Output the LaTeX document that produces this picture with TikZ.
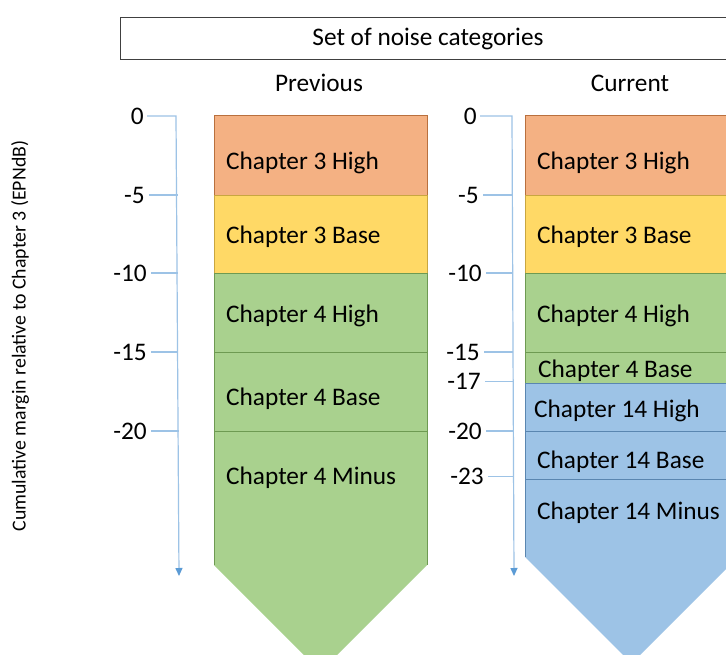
\documentclass[tikz,border=0pt]{standalone}
\usepackage{fontspec}
\setmainfont{Carlito}
\usetikzlibrary{arrows.meta}
\definecolor{orF}{HTML}{F4B183}
\definecolor{orD}{HTML}{B9703E}
\definecolor{yeF}{HTML}{FFD966}
\definecolor{yeD}{HTML}{C9A640}
\definecolor{grF}{HTML}{A9D18E}
\definecolor{grD}{HTML}{6E9A52}
\definecolor{blF}{HTML}{9DC3E6}
\definecolor{blD}{HTML}{5A86B0}
\definecolor{axL}{HTML}{9DC3E6}
\definecolor{axD}{HTML}{5B9BD5}
\tikzset{
  bigfont/.style={font=\fontsize{25.3}{30}\selectfont},
  lbl/.style={bigfont, inner sep=0pt, anchor=base west},
  ticklbl/.style={bigfont, inner sep=0pt, anchor=east},
  tickline/.style={draw=axL, line width=1.2pt},
  axisline/.style={draw=axL, line width=1.2pt, -{Triangle[width=7pt,length=8pt,fill=axD,color=axD]}},
}
\begin{document}
\begin{tikzpicture}[x=1pt,y=-1pt]
\useasboundingbox (0,0) rectangle (726,655);
\clip (0,0) rectangle (726,655);
\fill[white] (0,0) rectangle (726,655);

% header
\node[draw=black!75, line width=1pt, minimum width=616pt, minimum height=42pt, inner sep=0pt,
      bigfont] (hdr) at (428,39) {Set of noise categories};
\node[bigfont, inner sep=0pt, anchor=base] (prev) at (319,91.7) {Previous};
\node[bigfont, inner sep=0pt, anchor=base] (curr) at (630,91.7) {Current};

% y label
\node[rotate=90, font=\fontsize{19.8}{24}\selectfont, inner sep=0pt] (ylab) at (20,336)
  {Cumulative margin relative to Chapter 3 (EPNdB)};

% ---------- Previous column ----------
\draw[draw=orD, fill=orF, line width=1pt] (214,116) rectangle (427,196);
\draw[draw=yeD, fill=yeF, line width=1pt] (214,196) rectangle (427,274);
\draw[draw=grD, fill=grF, line width=1pt] (214,274) rectangle (427,352);
\draw[draw=grD, fill=grF, line width=1pt] (214,352) rectangle (427,431);
\fill[grF] (214,431) -- (427,431) -- (427,565) -- (320.5,671.5) -- (214,565) -- cycle;
\draw[grD, line width=1pt] (214,565) -- (214,431) -- (427,431) -- (427,565);

\node[lbl] (p1) at (226,170) {Chapter 3 High};
\node[lbl] (p2) at (226,244) {Chapter 3 Base};
\node[lbl] (p3) at (226,323) {Chapter 4 High};
\node[lbl] (p4) at (226,405) {Chapter 4 Base};
\node[lbl] (p5) at (226,484) {Chapter 4 Minus};

% ---------- Current column ----------
\draw[draw=orD, fill=orF, line width=1pt] (525,116) rectangle (738,196);
\draw[draw=yeD, fill=yeF, line width=1pt] (525,196) rectangle (738,274);
\draw[draw=grD, fill=grF, line width=1pt] (525,274) rectangle (738,352);
\draw[draw=grD, fill=grF, line width=1pt] (525,352) rectangle (738,383);
\draw[draw=blD, fill=blF, line width=1pt] (525,383) rectangle (738,431);
\draw[draw=blD, fill=blF, line width=1pt] (525,431) rectangle (738,479);
\fill[blF] (525,479) -- (738,479) -- (738,557) -- (631.5,663.5) -- (525,557) -- cycle;
\draw[blD, line width=1pt] (525,557) -- (525,479) -- (738,479) -- (738,557);

\node[lbl] (c1) at (537,170) {Chapter 3 High};
\node[lbl] (c2) at (537,244) {Chapter 3 Base};
\node[lbl] (c3) at (537,323) {Chapter 4 High};
\node[lbl] (c4) at (538,377) {Chapter 4 Base};
\node[lbl] (c5) at (534,417) {Chapter 14 High};
\node[lbl] (c6) at (537,468) {Chapter 14 Base};
\node[lbl] (c7) at (537,519) {Chapter 14 Minus};

% ---------- Left axis ----------
\coordinate (la0) at (176,116);
\coordinate (laEnd) at (179,576);
\node[ticklbl] (lt0) at (144,116) {0};
\node[ticklbl] (lt5) at (145,195) {-5};
\node[ticklbl] (lt10) at (147,273) {-10};
\node[ticklbl] (lt15) at (147,352) {-15};
\node[ticklbl] (lt20) at (147,431) {-20};
\draw[axisline] ([xshift=3pt]lt0.east) -- (la0) -- (laEnd);
\draw[tickline] ([xshift=4pt]lt5.east) -- (177.5,195);
\draw[tickline] ([xshift=4pt]lt10.east) -- (178,273);
\draw[tickline] ([xshift=4pt]lt15.east) -- (178,352);
\draw[tickline] ([xshift=4pt]lt20.east) -- (178.5,431);

% ---------- Right axis ----------
\coordinate (ra0) at (512,116);
\coordinate (raEnd) at (514,576);
\node[ticklbl] (rt0) at (477,116) {0};
\node[ticklbl] (rt5) at (479,195) {-5};
\node[ticklbl] (rt10) at (482,273) {-10};
\node[ticklbl] (rt15) at (480,352) {-15};
\node[ticklbl] (rt17) at (481,381.5) {-17};
\node[ticklbl] (rt20) at (482,431) {-20};
\node[ticklbl] (rt23) at (484,476.5) {-23};
\draw[axisline] ([xshift=3pt]rt0.east) -- (ra0) -- (raEnd);
\draw[tickline] ([xshift=4pt]rt5.east) -- (513,195);
\draw[tickline] ([xshift=4pt]rt10.east) -- (513,273);
\draw[tickline] ([xshift=4pt]rt15.east) -- (513,352);
\draw[tickline] ([xshift=4pt]rt17.east) -- (513,381.5);
\draw[tickline] ([xshift=4pt]rt20.east) -- (513.5,431);
\draw[tickline] ([xshift=4pt]rt23.east) -- (513.5,476.5);
\end{tikzpicture}
\end{document}
